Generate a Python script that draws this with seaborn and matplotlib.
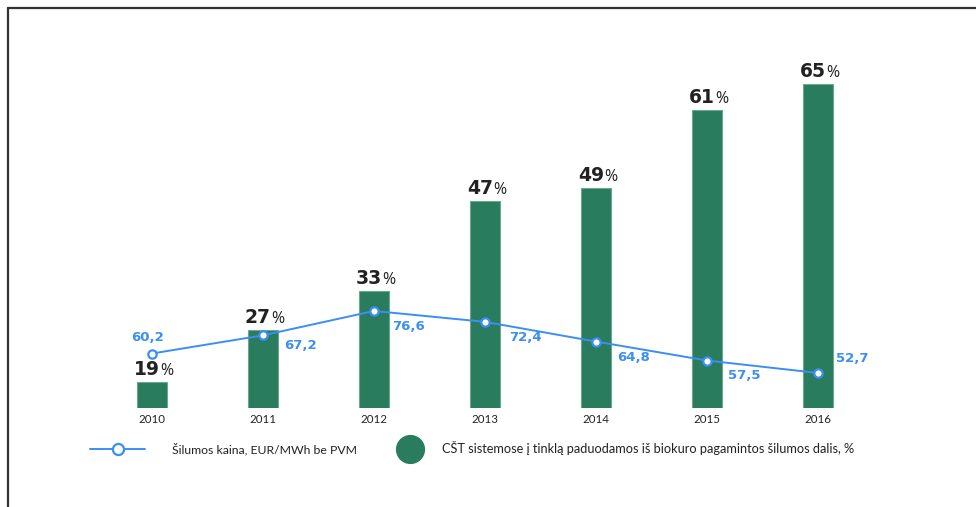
import numpy as np
import pandas as pd
import matplotlib
matplotlib.use("Agg")
import matplotlib.pyplot as plt
from matplotlib.lines import Line2D
import seaborn as sns

# ---- data ----
years = ["2010", "2011", "2012", "2013", "2014", "2015", "2016"]
bio_share = [19, 27, 33, 47, 49, 61, 65]            # %
heat_price = [60.2, 67.2, 76.6, 72.4, 64.8, 57.5, 52.7]  # EUR/MWh
legend_price = "Šilumos kaina, EUR/MWh be PVM"
legend_share = "CŠT sistemose į tinklą paduodamos iš biokuro pagamintos šilumos dalis, %"

GREEN = "#2a7c5f"
BLUE = "#3b8ef3"
DARK = "#222222"

sns.set_theme(style="white")
plt.rcParams["font.family"] = ["Lato", "DejaVu Sans"]
LBL = ["DejaVu Sans"]

W, H = 976, 507
fig = plt.figure(figsize=(W / 100, H / 100), dpi=100)
fig.patch.set_facecolor("white")

def fx(px):
    return px / W

def fy(py):
    return 1 - py / H

ax = fig.add_axes([fx(96.5), fy(408), fx(777), (408 - 30) / H])
df = pd.DataFrame({"year": years, "share": bio_share, "price": heat_price})

sns.barplot(data=df, x="year", y="share", color=GREEN, width=0.27,
            edgecolor="#6aa98f", linewidth=0.8, saturation=1, ax=ax)
ax.set_xlim(-0.5, 6.5)
ax.set_ylim(14.9, 73.4)
ax.set_xlabel("")
ax.set_ylabel("")
ax.set_yticks([])
for s in ax.spines.values():
    s.set_visible(False)
ax.tick_params(axis="x", length=0, pad=4, labelsize=8.3, labelcolor=DARK)

# bar labels: bold number + lighter %
for i, v in enumerate(bio_share):
    ax.annotate(f"{v}", xy=(i, v), xytext=(8, 7), textcoords="offset pixels",
                ha="right", va="baseline", fontsize=13.5, fontweight="bold",
                color=DARK, family=LBL)
    ax.annotate("%", xy=(i, v), xytext=(8, 7), textcoords="offset pixels",
                ha="left", va="baseline", fontsize=11.5, color=DARK,
                family=["Open Sans", "DejaVu Sans"])

ax2 = ax.twinx()
sns.lineplot(x=np.arange(len(years)), y=heat_price, ax=ax2, color=BLUE,
             linewidth=1.4, marker="o", markersize=6, markerfacecolor="white",
             markeredgecolor=BLUE, markeredgewidth=1.6)
ax2.set_ylim(39.2, 184.9)
ax2.set_xlim(-0.5, 6.5)
ax2.set_yticks([])
ax2.set_ylabel("")
for s in ax2.spines.values():
    s.set_visible(False)

offsets = [(-4, 16, "center"), (21, -10, "left"), (18, -16, "left"),
           (24, -16, "left"), (21, -16, "left"), (21, -15, "left"),
           (18, 14, "left")]
for i, v in enumerate(heat_price):
    dx, dy, ha = offsets[i]
    ax2.annotate(f"{v:.1f}".replace(".", ","), xy=(i, v), xytext=(dx, dy),
                 textcoords="offset pixels", ha=ha, va="center",
                 fontsize=9.5, fontweight="bold", color=BLUE, family=LBL)

# legends
h1 = Line2D([], [], color=BLUE, linewidth=1.4, marker="o", markersize=8,
            markerfacecolor="white", markeredgecolor=BLUE, markeredgewidth=1.6)
leg1 = fig.legend([h1], [legend_price], loc="center left",
                  bbox_to_anchor=(fx(90), fy(449)), frameon=False,
                  borderpad=0, borderaxespad=0, handlelength=4.5,
                  handletextpad=2.2, fontsize=8.8, labelcolor=DARK)
h2 = Line2D([], [], linestyle="none", marker="o", markersize=20,
            markerfacecolor=GREEN, markeredgecolor=GREEN)
leg2 = fig.legend([h2], [legend_share], loc="center left",
                  bbox_to_anchor=(fx(396), fy(448)), frameon=False,
                  borderpad=0, borderaxespad=0, handlelength=2.2,
                  handletextpad=1.4, fontsize=9.2, labelcolor=DARK)

# frame lines (top and left)
fig.add_artist(Line2D([fx(7.5), 1], [fy(7.5), fy(7.5)], color="#333333",
                      linewidth=1.6, transform=fig.transFigure))
fig.add_artist(Line2D([fx(7.5), fx(7.5)], [fy(7.5), 0], color="#333333",
                      linewidth=1.6, transform=fig.transFigure))

fig.savefig("out.png", dpi=100, facecolor="white")
